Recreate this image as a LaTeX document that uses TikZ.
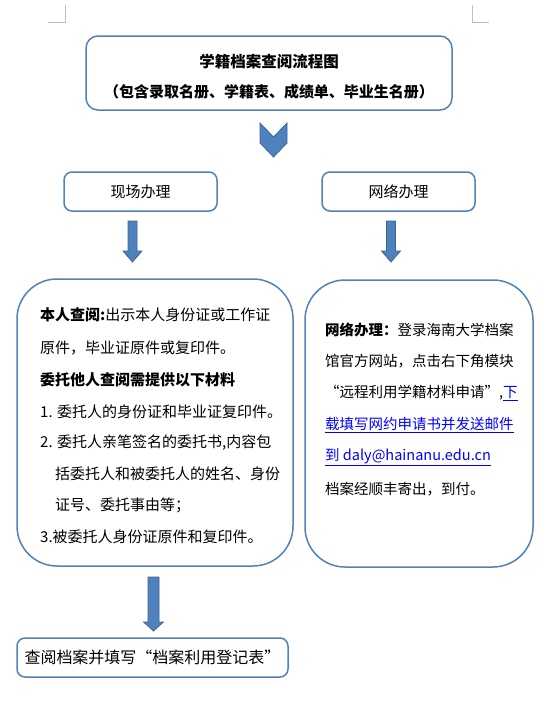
\documentclass[tikz,border=0pt]{standalone}
\usepackage{fontspec}
\setmainfont{Noto Sans CJK SC}
\usetikzlibrary{calc}
\definecolor{bdr}{HTML}{4F81BD}
\definecolor{arrfill}{HTML}{4F81BD}
\definecolor{arrdraw}{HTML}{3A6596}
\definecolor{linkblue}{HTML}{0000FF}
\definecolor{markgray}{HTML}{BFBFBF}
\newcommand\barrowdown[6]{%
  \draw[barrow] (#1-#5,#2) -- (#1+#5,#2) -- (#1+#5,#3) -- (#1+#6,#3) -- (#1,#4) -- (#1-#6,#3) -- (#1-#5,#3) -- cycle;}
\newcommand\lnk[1]{\textcolor{linkblue}{\underline{#1}}}
\tikzset{
  box/.style={draw=bdr, line width=1.5pt, rounded corners=#1, inner sep=0pt},
  box/.default=10pt,
  txt/.style={anchor=west, inner sep=0pt, font=\fontsize{15}{15}\selectfont},
  rtxt/.style={anchor=west, inner sep=0pt, font=\fontsize{14.5}{14.5}\selectfont},
  ctxt/.style={inner sep=0pt, font=\fontsize{15}{15}\selectfont},
  barrow/.style={fill=arrfill, draw=arrdraw, line width=0.75pt, line join=miter},
  cropmark/.style={draw=markgray, line width=0.75pt}
}
\begin{document}
\begin{tikzpicture}[x=1pt,y=-1pt]
\useasboundingbox (0,0) rectangle (548,724);
% corner marks
\draw[cropmark] (65,5) -- (65,22.5) -- (48,22.5);
\draw[cropmark] (472,5) -- (472,22.5) -- (489,22.5);
% title box
\node[box=12pt, minimum width=366pt, minimum height=74pt] (title) at (269,73) {};
\node[ctxt, font=\fontsize{15.5}{15.5}\selectfont\bfseries] (t1) at (269,62) {学籍档案查阅流程图};
\node[ctxt, font=\fontsize{15}{15}\selectfont\bfseries] (t2) at (269,92) {（包含录取名册、学籍表、成绩单、毕业生名册）};
% chevron
\draw[barrow] (260,123) -- (273.5,137) -- (287,123) -- (287,143) -- (273.5,157) -- (260,143) -- cycle;
% second row boxes
\node[box=8pt, minimum width=153pt, minimum height=39pt] (onsite) at (140.5,191.5) {};
\node[ctxt] at (onsite.center) (onsitet) {现场办理};
\node[box=8pt, minimum width=153pt, minimum height=39pt] (online) at (398.5,191.5) {};
\node[ctxt] at (online.center) (onlinet) {网络办理};
% arrows down
\barrowdown{132.5}{221}{251}{262}{4.5}{9.5}
\barrowdown{391}{221}{251}{262}{4.5}{9.5}
% left big box
\node[box=40pt, minimum width=276pt, minimum height=287pt] (lbox) at (155,422.5) {};
\node[txt] (l1) at (40,315) {\textbf{本人查阅:}出示本人身份证或工作证};
\node[txt] (l2) at (40,348) {原件，毕业证原件或复印件。};
\node[txt] (l3) at (40,380) {\textbf{委托他人查阅需提供以下材料}};
\node[txt] (l4) at (40,412) {1. 委托人的身份证和毕业证复印件。};
\node[txt] (l5) at (40,443) {2. 委托人亲笔签名的委托书,内容包};
\node[txt] (l6) at (55,474) {括委托人和被委托人的姓名、身份};
\node[txt] (l7) at (55,505) {证号、委托事由等；};
\node[txt] (l8) at (40,537) {3.被委托人身份证原件和复印件。};
% right big box
\node[box=40pt, minimum width=228pt, minimum height=287pt] (rbox) at (419,423.5) {};
\node[rtxt] (r1) at (325,330) {\textbf{网络办理：}登录海南大学档案};
\node[rtxt] (r2) at (325,361) {馆官方网站，点击右下角模块};
\node[rtxt] (r3) at (325,393) {“远程利用学籍材料申请”,\lnk{下}};
\node[rtxt] (r4) at (325,425) {\lnk{载填写网约申请书并发送邮件}};
\node[rtxt] (r5) at (325,457) {\lnk{到 daly@hainanu.edu.cn}};
\node[rtxt] (r6) at (325,489) {档案经顺丰寄出，到付。};
% bottom arrow
\barrowdown{153.5}{577}{622}{631}{5.5}{10}
% bottom box
\node[box=8pt, minimum width=271pt, minimum height=39pt] (final) at (152.5,657.5) {};
\node[ctxt, font=\fontsize{16}{16}\selectfont] (finalt) at (final.center) {查阅档案并填写“档案利用登记表”};
\end{tikzpicture}
\end{document}
